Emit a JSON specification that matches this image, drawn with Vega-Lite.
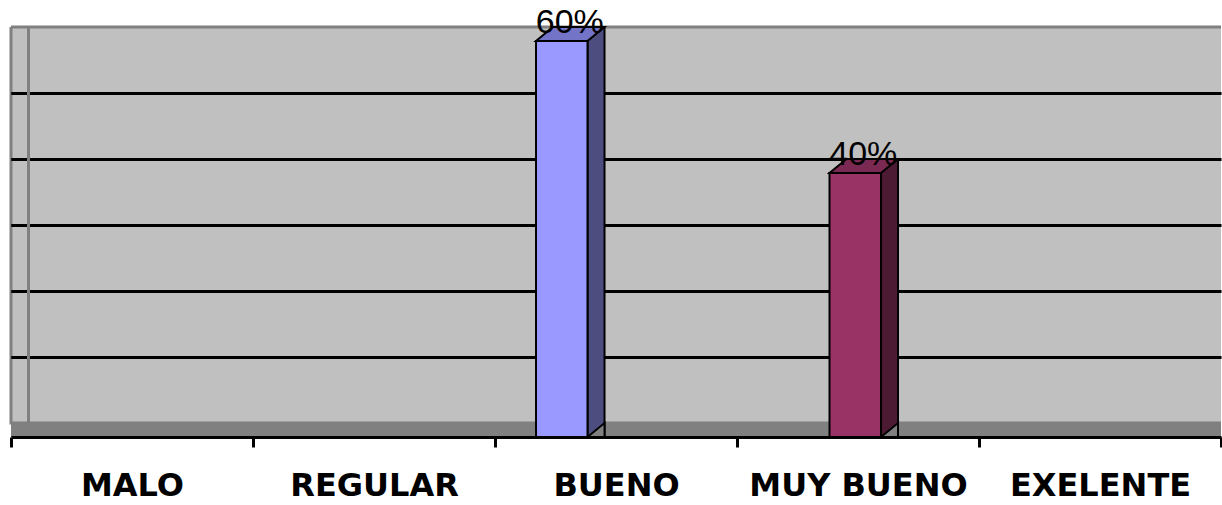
{
  "$schema": "https://vega.github.io/schema/vega-lite/v6.json",
  "width": 1210,
  "height": 396,
  "autosize": {"type": "none"},
  "padding": {"left": 11, "top": 27, "right": 1, "bottom": 82},
  "background": "white",
  "config": {"view": {"fill": "#C0C0C0", "stroke": "#808080", "strokeWidth": 3, "strokeDash": [1210, 396, 1606, 0]}},
  "data": {"values": [
    {"categoria": "MALO", "serie": "Serie1", "valor": 0},
    {"categoria": "REGULAR", "serie": "Serie1", "valor": 0},
    {"categoria": "BUENO", "serie": "Serie1", "valor": 0.6},
    {"categoria": "MUY BUENO", "serie": "Serie2", "valor": 0.4},
    {"categoria": "EXELENTE", "serie": "Serie1", "valor": 0}
  ]},
  "resolve": {"scale": {"xOffset": "independent"}},
  "layer": [
    {
      "mark": {"type": "rect", "color": "#808080", "y2Offset": 14},
      "encoding": {
        "y": {"datum": 0, "type": "quantitative", "scale": {"domain": [0, 0.6], "nice": false, "zero": true},
          "axis": {"orient": "left", "offset": -17, "values": [0.1, 0.2, 0.3, 0.4, 0.5], "labels": false, "title": null,
            "domain": true, "domainColor": "#808080", "domainWidth": 3, "ticks": true, "tickColor": "black", "tickWidth": 3, "tickSize": 17,
            "grid": true, "gridColor": "black", "gridWidth": 3}},
        "y2": {"datum": 0}
      }
    },
    {
      "transform": [{"filter": "datum.valor > 0"}],
      "mark": {"type": "bar", "width": 17, "y2Offset": 14, "stroke": "black", "strokeWidth": 2},
      "encoding": {
        "x": {"field": "categoria", "type": "nominal"},
        "xOffset": {"field": "serie", "type": "nominal",
          "scale": {"type": "band", "domain": ["Serie1", "Serie2", "Serie3"], "paddingInner": 0, "paddingOuter": 0.85, "align": 0.86}},
        "y": {"field": "valor", "type": "quantitative"},
        "y2": {"datum": 0},
        "fill": {"condition": {"test": "datum.serie === 'Serie1'", "value": "#4D4D80"}, "value": "#4D1A33"}
      }
    },
    {
      "transform": [{"filter": "datum.valor > 0"}],
      "mark": {"type": "point", "shape": "M -1 0.824 L 1 -0.824 L 1 0.824 Z", "size": 289, "filled": true, "fill": "#808080", "stroke": "black", "strokeWidth": 2, "opacity": 1, "yOffset": 7},
      "encoding": {
        "x": {"field": "categoria", "type": "nominal"},
        "xOffset": {"field": "serie", "type": "nominal",
          "scale": {"type": "band", "domain": ["Serie1", "Serie2", "Serie3"], "paddingInner": 0, "paddingOuter": 0.85, "align": 0.86}},
        "y": {"datum": 0, "type": "quantitative"}
      }
    },
    {
      "transform": [{"filter": "datum.valor > 0"}],
      "mark": {"type": "bar", "yOffset": 14, "y2Offset": 14, "stroke": "black", "strokeWidth": 2},
      "encoding": {
        "x": {"field": "categoria", "type": "nominal",
          "sort": ["MALO", "REGULAR", "BUENO", "MUY BUENO", "EXELENTE"],
          "scale": {"domain": ["MALO", "REGULAR", "BUENO", "MUY BUENO", "EXELENTE"], "paddingInner": 0, "paddingOuter": 0},
          "axis": {"orient": "bottom", "offset": 14, "title": null, "zindex": 1, "domainColor": "black", "domainWidth": 3,
            "tickColor": "black", "tickWidth": 3, "tickSize": 10, "tickBand": "extent",
            "labelFont": "DejaVu Sans", "labelFontWeight": "bold", "labelFontSize": 32, "labelColor": "black",
            "labelAlign": "center", "labelLimit": 0,
            "labelBaseline": "alphabetic", "labelPadding": 48, "labelAngle": 0, "grid": false}},
        "xOffset": {"field": "serie", "type": "nominal",
          "scale": {"type": "band", "domain": ["Serie1", "Serie2", "Serie3"], "paddingInner": 0, "paddingOuter": 0.85, "align": 0.4686}},
        "y": {"field": "valor", "type": "quantitative"},
        "y2": {"datum": 0},
        "fill": {"condition": {"test": "datum.serie === 'Serie1'", "value": "#9999FF"}, "value": "#993366"}
      }
    },
    {
      "transform": [{"filter": "datum.valor > 0"}],
      "mark": {"type": "point", "shape": "M -1 0.204 L 0.504 0.204 L 1 -0.204 L -0.504 -0.204 Z", "size": 4692, "filled": true, "stroke": "black", "strokeWidth": 2, "opacity": 1, "yOffset": 7},
      "encoding": {
        "x": {"field": "categoria", "type": "nominal"},
        "xOffset": {"field": "serie", "type": "nominal",
          "scale": {"type": "band", "domain": ["Serie1", "Serie2", "Serie3"], "paddingInner": 0, "paddingOuter": 0.85, "align": 0.5657}},
        "y": {"field": "valor", "type": "quantitative"},
        "fill": {"condition": {"test": "datum.serie === 'Serie1'", "value": "#7373C8"}, "value": "#7A2952"}
      }
    },
    {
      "transform": [{"filter": "datum.valor > 0"}],
      "mark": {"type": "text", "font": "Liberation Sans", "fontSize": 34, "color": "black", "baseline": "alphabetic", "align": "center", "yOffset": 6},
      "encoding": {
        "x": {"field": "categoria", "type": "nominal"},
        "xOffset": {"field": "serie", "type": "nominal",
          "scale": {"type": "band", "domain": ["Serie1", "Serie2", "Serie3"], "paddingInner": 0, "paddingOuter": 0.85, "align": 0.56}},
        "y": {"field": "valor", "type": "quantitative"},
        "text": {"field": "valor", "type": "quantitative", "format": ".0%"}
      }
    }
  ]
}
